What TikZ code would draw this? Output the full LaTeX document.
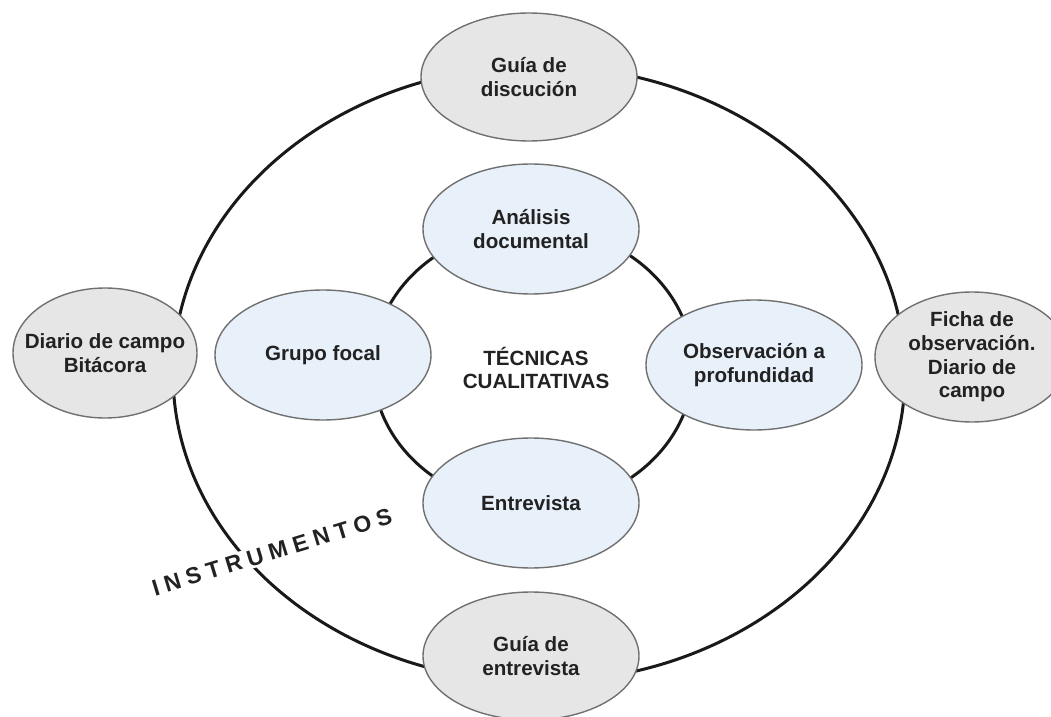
\documentclass[tikz,border=0pt]{standalone}
\usepackage{fontspec}
\setmainfont{Liberation Sans}
\usetikzlibrary{shapes.geometric}
\definecolor{bubblegray}{HTML}{E6E6E6}
\definecolor{bubbleblue}{HTML}{E8F0FA}
\definecolor{rimgray}{HTML}{707070}
\definecolor{inkdark}{HTML}{222222}
\tikzset{
  ring/.style={line width=1.5pt, draw=black!90},
  label font/.style={text=inkdark, font=\fontsize{10.3}{11.8}\selectfont\bfseries},
  bubble/.style={ellipse, draw=rimgray, line width=0.7pt, inner sep=0pt, align=center, label font},
  instrumento/.style={bubble, fill=bubblegray, minimum width=108pt, minimum height=64pt},
  tecnica/.style={bubble, fill=bubbleblue, minimum width=108pt, minimum height=65pt},
}

\begin{document}
\begin{tikzpicture}[x=0.5pt, y=-0.5pt]
    \useasboundingbox (0, 0) rectangle (1051, 717);
    % the two rings
    \draw[ring] (539, 374) ellipse [x radius=366, y radius=308];
    \draw[ring] (533, 367) ellipse [x radius=160, y radius=140];
    % instrumentos
    \node[instrumento] (discusion) at (529, 77) {Guía de\\discución};
    \node[instrumento] (guiaentrev) at (531, 656) {Guía de\\entrevista};
    \node[instrumento, minimum width=92pt, minimum height=65pt, inner xsep=-10pt] (diario) at (105, 353) {Diario de campo\\Bitácora};
    \node[instrumento, minimum width=97pt, minimum height=65pt] (ficha) at (972, 357) {Ficha de\\observación.\\Diario de\\campo};
    % tecnicas
    \node[tecnica] (analisis) at (531, 229) {Análisis\\documental};
    \node[tecnica] (entrevista) at (531, 503) {Entrevista};
    \node[tecnica] (grupo) at (323, 355) {Grupo focal};
    \node[tecnica] (observacion) at (754, 365) {Observación a\\profundidad};
    \node[label font, align=center] (centro) at (536, 368) {TÉCNICAS\\CUALITATIVAS};
    \node[label font, rotate=17, fill=white, inner sep=1pt,
          font=\fontsize{11.5}{13}\selectfont\bfseries\addfontfeature{LetterSpace=26}] (instr) at (272, 552) {INSTRUMENTOS};
\end{tikzpicture}
\end{document}
